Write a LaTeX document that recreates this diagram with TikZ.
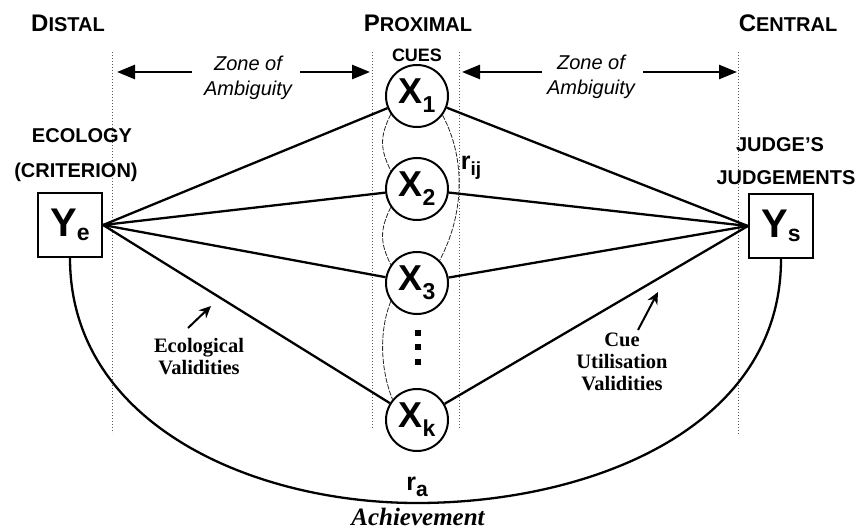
\documentclass[tikz,border=0pt]{standalone}
\usepackage{fontspec}
\setmainfont{Liberation Serif}
\setsansfont{Liberation Sans}
\usetikzlibrary{arrows.meta, positioning}

\newcommand{\lowsub}[3]{\raisebox{#3}{\fontsize{#2}{#2}\selectfont #1}}
\newcommand{\fakesc}[2]{{\fontsize{24}{24}\selectfont #1}{\fontsize{20}{20}\selectfont #2}}

\begin{document}
\begin{tikzpicture}[x=1pt, y=-1pt,
    headlabel/.style={font=\sffamily\bfseries, anchor=base, inner sep=0pt},
    sidelabel/.style={font=\sffamily\bfseries\fontsize{20}{20}\selectfont, anchor=base, inner sep=0pt},
    zonelabel/.style={font=\sffamily\itshape\fontsize{20}{25}\selectfont, align=center, inner sep=0pt},
    cuenode/.style={circle, draw, line width=2pt, minimum size=62pt, inner sep=0pt,
      font=\sffamily\bfseries\fontsize{36}{36}\selectfont},
    varbox/.style={rectangle, draw, line width=2.2pt, minimum size=64pt, inner sep=0pt,
      font=\sffamily\bfseries\fontsize{40}{40}\selectfont},
    validlabel/.style={font=\rmfamily\bfseries\fontsize{20.5}{22}\selectfont, align=center, inner sep=0pt},
    corrlabel/.style={font=\sffamily\bfseries\fontsize{25}{25}\selectfont, inner sep=0pt},
    lens/.style={line width=2.3pt},
    zonearr/.style={-{Triangle[length=18pt,width=14pt]}, line width=2.6pt},
    ptr/.style={-{Stealth[length=12pt,width=11pt]}, line width=2pt},
    zoneline/.style={dotted, line width=1pt, black!65},
    rlink/.style={dash pattern=on 5pt off 1.5pt, line width=0.8pt, black!85}
  ]
    \useasboundingbox (0,0) rectangle (859,529);

    % zone boundaries
    \foreach \x/\yb in {112/433, 372/430, 459/430, 738/435}
      \draw[zoneline] (\x,52) -- (\x,\yb);

    % headings
    \node[headlabel] (distal) at (68,32) {\fakesc{D}{ISTAL}};
    \node[headlabel] (proximal) at (418,32) {\fakesc{P}{ROXIMAL}};
    \node[headlabel] (central) at (788,32) {\fakesc{C}{ENTRAL}};
    \node[headlabel, font=\sffamily\bfseries\fontsize{18}{18}\selectfont] (cues) at (417,62) {CUES};

    % zones of ambiguity
    \node[zonelabel] (zoneL) at (248,78) {Zone of\\Ambiguity};
    \node[zonelabel] (zoneR) at (591,77) {Zone of\\Ambiguity};
    \coordinate (zlA) at (192,72); \coordinate (zlB) at (117,72);
    \coordinate (zlC) at (300,72); \coordinate (zlD) at (370,72);
    \coordinate (zrA) at (542,72); \coordinate (zrB) at (462,72);
    \coordinate (zrC) at (643,72); \coordinate (zrD) at (737,72);
    \draw[zonearr] (zlA) -- (zlB);
    \draw[zonearr] (zlC) -- (zlD);
    \draw[zonearr] (zrA) -- (zrB);
    \draw[zonearr] (zrC) -- (zrD);

    % criterion and judgement
    \node[sidelabel] (ecology) at (82,143) {ECOLOGY};
    \node[sidelabel] (criterion) at (76,178) {(CRITERION)};
    \node[sidelabel] (judges) at (780,152) {JUDGE'S};
    \node[sidelabel] (judgements) at (786,185) {JUDGEMENTS};
    \node[varbox] (Ye) at (70,225) {Y\lowsub{e}{23}{-4pt}};
    \node[varbox] (Ys) at (781,226) {Y\lowsub{s}{23}{-4pt}};

    % proximal cues
    \node[cuenode] (X1) at (417,96) {X\lowsub{1}{23}{-9pt}};
    \node[cuenode] (X2) at (417,189) {X\lowsub{2}{23}{-9pt}};
    \node[cuenode] (X3) at (417,283) {X\lowsub{3}{23}{-9pt}};
    \node[cuenode] (Xk) at (417,420) {X\lowsub{k}{23}{-9pt}};
    \foreach \yy in {333,347,362}
      \fill (414.5,\yy-3) rectangle +(6.5,6);

    \foreach \c in {X1,X2,X3,Xk} {
      \draw[lens] (Ye.east) -- (\c);
      \draw[lens] (\c) -- (Ys.west);
    }

    % cue intercorrelations
    \draw[rlink] (X1.215) .. controls +(-11,22) and +(-11,-22) .. (X2.145);
    \draw[rlink] (X2.215) .. controls +(-11,22) and +(-11,-22) .. (X3.145);
    \draw[rlink] (X3.215) .. controls +(-12,30) and +(-12,-30) .. (Xk.140);
    \draw[rlink] (X1.-37) .. controls +(24,45) and +(24,-45) .. (X3.45);
    \node[corrlabel] (rij) at (471,168) {r\lowsub{ij}{19}{-6pt}};

    % validities
    \node[validlabel] (ecoval) at (199,357) {Ecological\\Validities};
    \node[validlabel] (cueval) at (622,362) {Cue\\Utilisation\\Validities};
    \coordinate (ecotail) at (188,328); \coordinate (ecotip) at (211,306);
    \coordinate (cuetail) at (638,330); \coordinate (cuetip) at (658,292);
    \draw[ptr] (ecotail) -- (ecotip);
    \draw[ptr] (cuetail) -- (cuetip);

    % achievement
    \coordinate (ach) at (417,503);
    \draw[lens] (Ye.south) .. controls (70,423) and (251,503) .. (ach)
      .. controls (589,503) and (781,429) .. (Ys.south);
    \node[corrlabel] (ra) at (417,487) {r\lowsub{a}{21}{-6pt}};
    \node[font=\rmfamily\bfseries\itshape\fontsize{25}{25}\selectfont, anchor=base, inner sep=0pt]
      (achieve) at (418,525) {Achievement};
\end{tikzpicture}
\end{document}
